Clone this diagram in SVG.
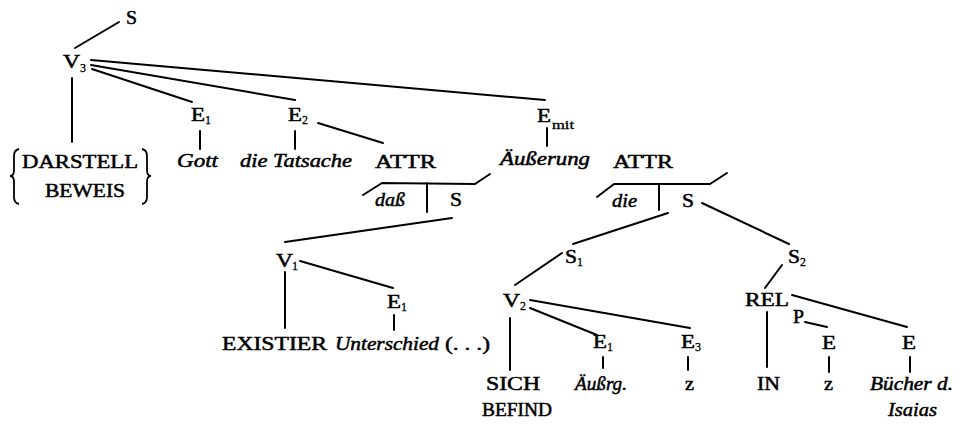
<svg xmlns="http://www.w3.org/2000/svg" width="972" height="425" viewBox="0 0 972 425">
<style>
text{font-family:"Liberation Serif","Times New Roman",serif;font-size:19px;fill:#000;stroke:#000;stroke-width:0.5}
.i{font-style:italic}
.sub{font-size:12px;stroke-width:0.3}
.ln{stroke:#000;stroke-width:2;fill:none;stroke-linecap:round;stroke-linejoin:round}
.br{stroke:#000;stroke-width:1.8;fill:none}
</style>
<rect width="972" height="425" fill="#fff"/>
<g id="connectors" class="ln">
<line x1="119" y1="22" x2="75" y2="48"/>
<line x1="91" y1="60" x2="545" y2="100"/>
<line x1="91" y1="65" x2="295" y2="100"/>
<line x1="92" y1="69" x2="192" y2="102"/>
<line x1="72" y1="78" x2="72" y2="142"/>
<line x1="200" y1="131" x2="200" y2="149"/>
<line x1="295" y1="131" x2="295" y2="149"/>
<line x1="318" y1="123" x2="383" y2="143"/>
<line x1="547" y1="128" x2="547" y2="146"/>
<polyline points="363,195 382,183 475,184 490,174"/>
<line x1="427" y1="183" x2="427" y2="212"/>
<line x1="452" y1="218" x2="285" y2="242"/>
<polyline points="597,197 614,184 710,184 727,173"/>
<line x1="659" y1="184" x2="659" y2="210"/>
<line x1="668" y1="213" x2="573" y2="244"/>
<line x1="702" y1="203" x2="789" y2="244"/>
<line x1="300" y1="261" x2="393" y2="288"/>
<line x1="285" y1="272" x2="285" y2="328"/>
<line x1="394" y1="315" x2="394" y2="330"/>
<line x1="562" y1="253" x2="515" y2="285"/>
<line x1="782" y1="265" x2="765" y2="288"/>
<line x1="530" y1="308" x2="597" y2="335"/>
<line x1="530" y1="300" x2="690" y2="328"/>
<line x1="510" y1="318" x2="510" y2="370"/>
<line x1="603" y1="357" x2="603" y2="368"/>
<line x1="688" y1="357" x2="688" y2="370"/>
<line x1="792" y1="295" x2="907" y2="327"/>
<line x1="767" y1="312" x2="767" y2="367"/>
<line x1="805" y1="322" x2="827" y2="327"/>
<line x1="829" y1="357" x2="829" y2="372"/>
<line x1="910" y1="357" x2="910" y2="372"/>
</g>
<g id="n-S"><text x="126" y="24" textLength="11" lengthAdjust="spacingAndGlyphs">S</text></g>
<g id="n-V3"><text x="63" y="68" textLength="17" lengthAdjust="spacingAndGlyphs">V</text><text class="sub" x="80" y="72">3</text></g>
<g id="n-DARSTELL">
<path class="br" d="M19,149 Q14,150 14,156 L14,170 Q14,176 10,176 Q14,176 14,182 L14,197 Q14,203 19,204"/>
<path class="br" d="M142,149 Q147,150 147,156 L147,170 Q147,176 151,176 Q147,176 147,182 L147,197 Q147,203 142,204"/>
<text x="22" y="168" textLength="116" lengthAdjust="spacingAndGlyphs">DARSTELL</text>
<text x="45" y="197" textLength="80" lengthAdjust="spacingAndGlyphs">BEWEIS</text>
</g>
<g id="n-E1a"><text x="191" y="121" textLength="14" lengthAdjust="spacingAndGlyphs">E</text><text class="sub" x="205" y="124">1</text></g>
<g id="n-Gott"><text class="i" x="177" y="167" textLength="41" lengthAdjust="spacingAndGlyphs">Gott</text></g>
<g id="n-E2"><text x="288" y="121" textLength="14" lengthAdjust="spacingAndGlyphs">E</text><text class="sub" x="302" y="124">2</text></g>
<g id="n-Tatsache"><text class="i" x="240" y="167" textLength="112" lengthAdjust="spacingAndGlyphs">die Tatsache</text></g>
<g id="n-ATTR1"><text x="375" y="168" textLength="61" lengthAdjust="spacingAndGlyphs">ATTR</text></g>
<g id="n-Emit"><text x="537" y="122" textLength="14" lengthAdjust="spacingAndGlyphs">E</text><text class="sub" x="552" y="129" textLength="22" lengthAdjust="spacingAndGlyphs">mit</text></g>
<g id="n-Aeusserung"><text class="i" x="500" y="165" textLength="90" lengthAdjust="spacingAndGlyphs">Äußerung</text></g>
<g id="n-ATTR2"><text x="613" y="168" textLength="60" lengthAdjust="spacingAndGlyphs">ATTR</text></g>
<g id="n-dass"><text class="i" x="375" y="206" textLength="30" lengthAdjust="spacingAndGlyphs">daß</text></g>
<g id="n-S-a"><text x="450" y="206" textLength="12" lengthAdjust="spacingAndGlyphs">S</text></g>
<g id="n-die"><text class="i" x="612" y="207" textLength="25" lengthAdjust="spacingAndGlyphs">die</text></g>
<g id="n-S-b"><text x="682" y="207" textLength="12" lengthAdjust="spacingAndGlyphs">S</text></g>
<g id="n-V1"><text x="276" y="267" textLength="17" lengthAdjust="spacingAndGlyphs">V</text><text class="sub" x="292" y="270">1</text></g>
<g id="n-E1b"><text x="387" y="308" textLength="14" lengthAdjust="spacingAndGlyphs">E</text><text class="sub" x="401" y="311">1</text></g>
<g id="n-EXISTIER"><text x="222" y="350" textLength="105" lengthAdjust="spacingAndGlyphs">EXISTIER</text></g>
<g id="n-Unterschied"><text class="i" x="335" y="350" textLength="104" lengthAdjust="spacingAndGlyphs">Unterschied</text><text x="445" y="350" textLength="45" lengthAdjust="spacingAndGlyphs">(. . .)</text></g>
<g id="n-S1"><text x="565" y="263" textLength="12" lengthAdjust="spacingAndGlyphs">S</text><text class="sub" x="577" y="266">1</text></g>
<g id="n-S2"><text x="788" y="263" textLength="12" lengthAdjust="spacingAndGlyphs">S</text><text class="sub" x="800" y="266">2</text></g>
<g id="n-V2"><text x="503" y="307" textLength="17" lengthAdjust="spacingAndGlyphs">V</text><text class="sub" x="520" y="310">2</text></g>
<g id="n-E1c"><text x="593" y="348" textLength="14" lengthAdjust="spacingAndGlyphs">E</text><text class="sub" x="607" y="351">1</text></g>
<g id="n-E3"><text x="681" y="348" textLength="14" lengthAdjust="spacingAndGlyphs">E</text><text class="sub" x="695" y="351">3</text></g>
<g id="n-REL"><text x="745" y="306" textLength="44" lengthAdjust="spacingAndGlyphs">REL</text></g>
<g id="n-P"><text x="793" y="323" textLength="11" lengthAdjust="spacingAndGlyphs">P</text></g>
<g id="n-E-mid"><text x="822" y="349" textLength="14" lengthAdjust="spacingAndGlyphs">E</text></g>
<g id="n-E-right"><text x="902" y="349" textLength="14" lengthAdjust="spacingAndGlyphs">E</text></g>
<g id="n-SICH"><text x="486" y="390" textLength="54" lengthAdjust="spacingAndGlyphs">SICH</text><text x="482" y="416" textLength="70" lengthAdjust="spacingAndGlyphs">BEFIND</text></g>
<g id="n-Aeussrg"><text class="i" x="575" y="390" textLength="52" lengthAdjust="spacingAndGlyphs">Äußrg.</text></g>
<g id="n-z1"><text x="685" y="390" textLength="9" lengthAdjust="spacingAndGlyphs">z</text></g>
<g id="n-IN"><text x="757" y="390" textLength="23" lengthAdjust="spacingAndGlyphs">IN</text></g>
<g id="n-z2"><text x="824" y="390" textLength="9" lengthAdjust="spacingAndGlyphs">z</text></g>
<g id="n-Buecher"><text class="i" x="870" y="390" textLength="83" lengthAdjust="spacingAndGlyphs">Bücher d.</text><text class="i" x="888" y="416" textLength="49" lengthAdjust="spacingAndGlyphs">Isaias</text></g>
</svg>
